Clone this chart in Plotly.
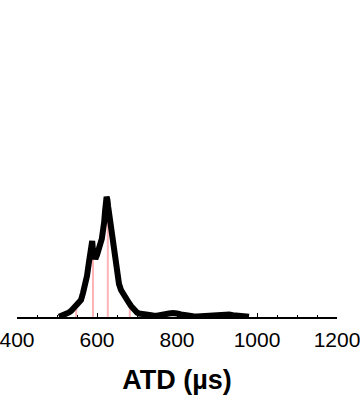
import plotly.graph_objects as go

atd = [505, 510, 515, 520, 525, 530, 535, 540, 545, 550, 555, 560, 565, 570, 575, 580,
       583, 586, 588, 590, 593, 596, 600, 603, 606, 609, 612, 615, 618, 620, 622, 624, 626, 628,
       630, 632, 635, 640, 645, 650, 655, 660, 665, 670, 675, 680, 685, 690, 695, 700, 705, 710,
       720, 730, 740, 750, 760, 770, 780, 790, 795, 800, 810, 820, 830, 840, 850, 860, 870, 880,
       890, 900, 910, 920, 930, 940, 950, 960, 970, 980]
intensity = [0.3, 1, 1.5, 2.5, 3.5, 4.5, 6, 8, 9.5, 11, 13, 17, 24, 32, 41, 55,
             65, 74, 76, 66, 60, 58, 62, 68, 72, 74, 78, 84, 95, 105, 115, 120, 117, 110,
             104, 98, 88, 72, 57, 44, 33, 27, 23, 20, 17, 14, 11, 8, 6, 4.5, 3.5, 3,
             2.5, 2, 1.5, 1.2, 1.5, 2.5, 3.5, 4, 4.5, 3.5, 2.5, 1.5, 1, 0.8, 0.6, 0.8, 1, 1.3,
             1.8, 2.5, 3, 3, 2.5, 1.8, 1.2, 0.8, 0.5, 0.2]

marker_atd = [548, 590, 627, 682]
marker_height = [10, 66, 113, 13]

tick_vals = [400, 600, 800, 1000, 1200]
tick_text = ["400", "600", "800", "1000", "1200"]

mx, my = [], []
for a, h in zip(marker_atd, marker_height):
    mx += [a, a, None]
    my += [0, h, None]

fig = go.Figure()
fig.add_trace(go.Scatter(x=mx, y=my, mode="lines",
                         line=dict(color="#ffb4b8", width=2), hoverinfo="skip"))
fig.add_trace(go.Scatter(x=atd, y=intensity, mode="lines",
                         line=dict(color="black", width=6)))

fig.update_layout(
    width=360, height=398,
    margin=dict(l=17, r=22.5, t=20, b=81.3, autoexpand=False),
    paper_bgcolor="white", plot_bgcolor="white",
    showlegend=False,
    font=dict(family="Liberation Sans, Arial, sans-serif", color="black"),
    xaxis=dict(range=[400, 1200], tickmode="array", tickvals=tick_vals, ticktext=tick_text,
               automargin=False, ticklabeloverflow="allow",
               ticks="inside", ticklen=4, tickwidth=1, tickcolor="black",
               minor=dict(dtick=50, tick0=400, ticks="inside", ticklen=2, tickcolor="black", tickwidth=1),
               showline=True, linecolor="black", linewidth=1.5, showgrid=False, zeroline=False,
               tickfont=dict(size=21), ticklabelstandoff=3,
               title=dict(text="<b>ATD (µs)</b>", font=dict(size=27), standoff=20)),
    yaxis=dict(range=[0, 296.7], visible=False, showgrid=False, zeroline=False),
)

fig.write_html("out.html")
